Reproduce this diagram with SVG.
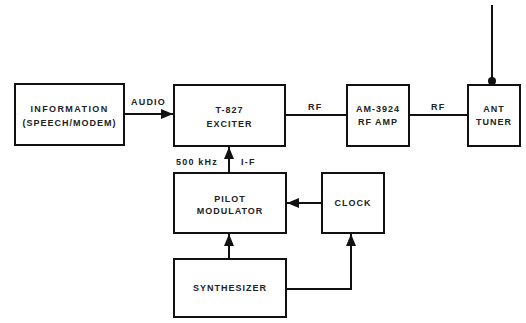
<svg xmlns="http://www.w3.org/2000/svg" width="526" height="323" viewBox="0 0 526 323">
<defs>
<style>
.box{fill:#fff;stroke:#111;stroke-width:2}
.t{font-family:"Liberation Sans",Arial,sans-serif;font-size:9px;font-weight:bold;fill:#222;text-anchor:middle;letter-spacing:1px}
.l{font-family:"Liberation Sans",Arial,sans-serif;font-size:9px;font-weight:bold;fill:#222;letter-spacing:1.2px}
.c{fill:none;stroke:#111;stroke-width:2}
</style>
<marker id="ah" viewBox="0 0 12 10" refX="12" refY="5" markerWidth="6" markerHeight="5" orient="auto" markerUnits="strokeWidth">
<path d="M0,0 L12,5 L0,10 z" fill="#111"/>
</marker>
</defs>
<rect width="526" height="323" fill="#fff"/>
<g id="connectors">
<line class="c" x1="124" y1="114" x2="173" y2="114" marker-end="url(#ah)"/>
<line class="c" x1="229" y1="173" x2="229" y2="147" marker-end="url(#ah)"/>
<line class="c" x1="285" y1="115" x2="347" y2="115"/>
<line class="c" x1="409" y1="115" x2="468" y2="115"/>
<line class="c" x1="492" y1="5" x2="492" y2="85"/>
<circle cx="492" cy="81" r="4" fill="#111"/>
<line class="c" x1="322" y1="203" x2="287" y2="203" marker-end="url(#ah)"/>
<line class="c" x1="229" y1="259" x2="229" y2="234" marker-end="url(#ah)"/>
<polyline class="c" points="286,289 351,289 351,234" marker-end="url(#ah)"/>
<text class="l" x="131" y="105">AUDIO</text>
<text class="l" x="176" y="165">500 kHz</text>
<text class="l" x="241" y="165">I-F</text>
<text class="l" x="308" y="110">RF</text>
<text class="l" x="431" y="110">RF</text>
</g>
<g id="information">
<rect class="box" x="15" y="84" width="109" height="61"/>
<text class="t" x="69.5" y="112" style="letter-spacing:1.4px">INFORMATION</text>
<text class="t" x="69.5" y="126">(SPEECH/MODEM)</text>
</g>
<g id="exciter">
<rect class="box" x="174" y="85" width="111" height="61"/>
<text class="t" x="229.5" y="113">T-827</text>
<text class="t" x="229.5" y="127">EXCITER</text>
</g>
<g id="rfamp">
<rect class="box" x="347" y="85" width="62" height="61"/>
<text class="t" x="378" y="112">AM-3924</text>
<text class="t" x="378" y="125">RF AMP</text>
</g>
<g id="tuner">
<rect class="box" x="468" y="85" width="52" height="61"/>
<text class="t" x="494" y="112">ANT</text>
<text class="t" x="494" y="125">TUNER</text>
</g>
<g id="pilot">
<rect class="box" x="174" y="173" width="112" height="60"/>
<text class="t" x="230" y="202">PILOT</text>
<text class="t" x="230" y="214">MODULATOR</text>
</g>
<g id="clock">
<rect class="box" x="322" y="173" width="62" height="60"/>
<text class="t" x="353" y="206">CLOCK</text>
</g>
<g id="synthesizer">
<rect class="box" x="174" y="259" width="112" height="58"/>
<text class="t" x="230" y="291">SYNTHESIZER</text>
</g>
</svg>
